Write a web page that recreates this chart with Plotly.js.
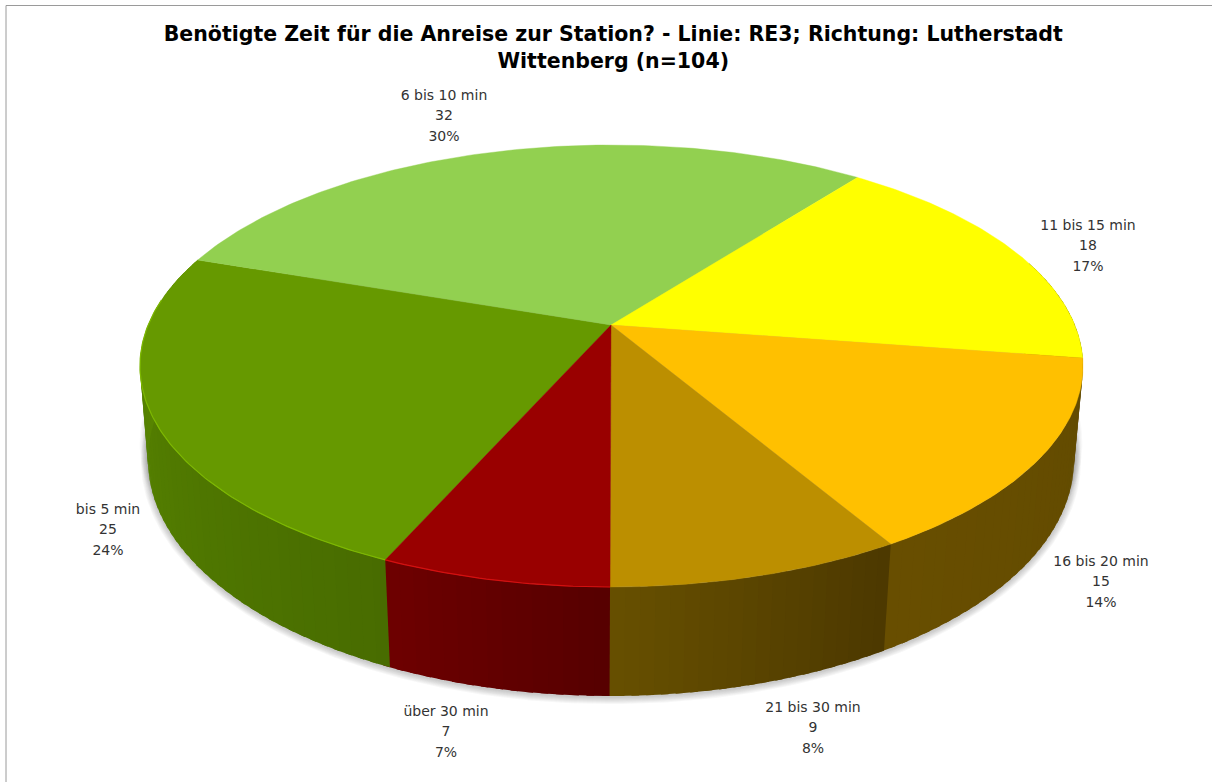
<!DOCTYPE html>
<html><head><meta charset="utf-8">
<script src="https://cdn.plot.ly/plotly-3.0.1.min.js"></script>
<style>html,body{margin:0;padding:0;background:#fff}</style>
</head><body><div id="chart" style="width:1212px;height:782px"></div>
<script>
// Data, in the order the slices run clockwise
const categories = ["bis 5 min","6 bis 10 min","11 bis 15 min","16 bis 20 min","21 bis 30 min","über 30 min"];
const counts = [25,32,18,15,9,7];
const percents = ["24%","30%","17%","14%","8%","7%"];
const titleText = "Benötigte Zeit für die Anreise zur Station? - Linie: RE3; Richtung: Lutherstadt<br>Wittenberg (n=104)";

// Styles
const topColors = ["#669900","#92D050","#FFFF00","#FFC000","#BC8F00","#990000"];
const wallStart = [[72,108,0],[90,136,45],[100,100,0],[98,75,0],[76,56,0],[86,0,0]];
const wallEnd   = [[92,140,0],[90,136,45],[100,100,0],[104,78,0],[103,80,0],[110,0,0]];
const rimColors = ["#7DB800",null,null,null,null,"#D41010"];
const labelX = [108,444,1088,1101,813,446];
const labelY = [530.5,116.5,246.5,582.5,728.5,732.5];

// Projection of the pie: perspective ellipses for the top face and the base
const topFace = {cx:611.5, cy:366, rx:471.5, ry:221, a:0.1855};
const baseFace = {cx:611, cy:460, rx:463, ry:236, a:0.18};
const rotation = 0.15;
function project(deg, f){
  const t = (deg+rotation)*Math.PI/180, x=-Math.sin(t), y=-Math.cos(t);
  const d = 1+f.a*y;
  return [f.cx + f.rx*x*Math.sqrt(1-f.a*f.a)/d, f.cy - f.ry*(y+f.a)/d];
}
function arc(a0,a1,f){
  const n=Math.max(2,Math.ceil(Math.abs(a1-a0)/0.75)), xs=[], ys=[];
  for(let i=0;i<=n;i++){const p=project(a0+(a1-a0)*i/n,f);xs.push(p[0]);ys.push(p[1]);}
  return [xs,ys];
}
const total = counts.reduce((s,v)=>s+v,0);
const offset = counts[counts.length-1];
let cum = offset;
const slices = counts.map((v,i)=>{const s={i:i,a0:cum/total*360,a1:(cum+v)/total*360};cum+=v;return s;});

const traces = [];
const poly=(xs,ys,fill)=>traces.push({type:"scatter",mode:"lines",x:xs,y:ys,fill:"toself",fillcolor:fill,line:{width:0,color:fill},hoverinfo:"skip",showlegend:false});

// Soft shadow under the base
[[1,0.045],[0.55,0.03]].forEach(([mix,alpha])=>{
  for(let k=7;k>=1;k--){
    const f={cx:611,cy:420+40*mix+1,rx:466-3*mix+k,ry:228+8*mix+k,a:0};
    const [xs,ys]=arc(0,360,f);
    poly(xs,ys,"rgba(60,60,60,"+alpha+")");
  }
});

// Walls: the visible front runs through the bottom of the pie, angles 252..468 unwrapped
const frontLo=252, frontHi=468.7;
const unwrapped = slices.map(s=>{
  const shift = s.a1<=frontHi-360 ? 360 : 0;
  return {i:s.i,a0:s.a0+shift,a1:s.a1+shift};
}).sort((p,q)=>p.a0-q.a0);
unwrapped.forEach(s=>{
  const a=Math.max(s.a0,frontLo), b=Math.min(s.a1,frontHi);
  if(b<=a) return;
  const n=Math.max(1,Math.ceil((b-a)/1.6));
  for(let j=0;j<n;j++){
    const u0=a+(b-a)*j/n,u1=a+(b-a)*(j+1)/n;
    const t=((u0+u1)/2-s.a0)/(s.a1-s.a0);
    const c=wallStart[s.i].map((v,q)=>Math.round(v+(wallEnd[s.i][q]-v)*t));
    const over=Math.min(u1+0.8,frontHi);
    const tt=arc(u0,over,topFace),bb=arc(u0,over,baseFace);
    poly(tt[0].concat(bb[0].slice().reverse()),tt[1].concat(bb[1].slice().reverse()),"rgb("+c.join(",")+")");
  }
});

// Top face
const apex=[topFace.cx-0.5, topFace.cy-topFace.ry*topFace.a];
slices.forEach(s=>{
  const [xs,ys]=arc(s.a0,s.a1,topFace);
  xs.unshift(apex[0]);ys.unshift(apex[1]);xs.push(apex[0]);ys.push(apex[1]);
  traces.push({type:"scatter",mode:"lines",x:xs,y:ys,fill:"toself",fillcolor:topColors[s.i],line:{width:0.4,color:topColors[s.i]},hoverinfo:"skip",showlegend:false});
});
// Rim highlights on the front of the top face
unwrapped.forEach(s=>{
  if(!rimColors[s.i]) return;
  const [xs,ys]=arc(s.a0,Math.min(s.a1,frontHi-12),topFace);
  traces.push({type:"scatter",mode:"lines",x:xs,y:ys,line:{width:1.2,color:rimColors[s.i]},hoverinfo:"skip",showlegend:false});
});

// Three-line labels
const lineGap=20.5;
categories.forEach((c,i)=>{
  traces.push({type:"scatter",mode:"text",x:[labelX[i],labelX[i],labelX[i]],
    y:[labelY[i]-lineGap,labelY[i],labelY[i]+lineGap],
    text:[c,String(counts[i]),percents[i]],textposition:"middle center",
    textfont:{family:"'DejaVu Sans',sans-serif",size:14,color:"#333333"},hoverinfo:"skip",showlegend:false});
});

const layout={
  width:1212,height:782,margin:{l:0,r:0,t:0,b:0},paper_bgcolor:"#fff",plot_bgcolor:"#fff",showlegend:false,hovermode:false,
  title:{text:titleText,x:0.506,xanchor:"center",y:0.947,yanchor:"top",yref:"container",font:{family:"'DejaVu Sans',sans-serif",size:20.5,color:"#000",weight:700}},
  xaxis:{range:[0,1212],visible:false,fixedrange:true},
  yaxis:{range:[782,0],visible:false,fixedrange:true},
  shapes:[
    {type:"line",xref:"x",yref:"y",x0:6,x1:6,y0:5.5,y1:782,line:{color:"#9a9a9a",width:1}},
    {type:"line",xref:"x",yref:"y",x0:6,x1:1212,y0:5.5,y1:5.5,line:{color:"#9a9a9a",width:1}}
  ]
};
Plotly.newPlot("chart",traces,layout,{displayModeBar:false,staticPlot:true});
</script></body></html>
